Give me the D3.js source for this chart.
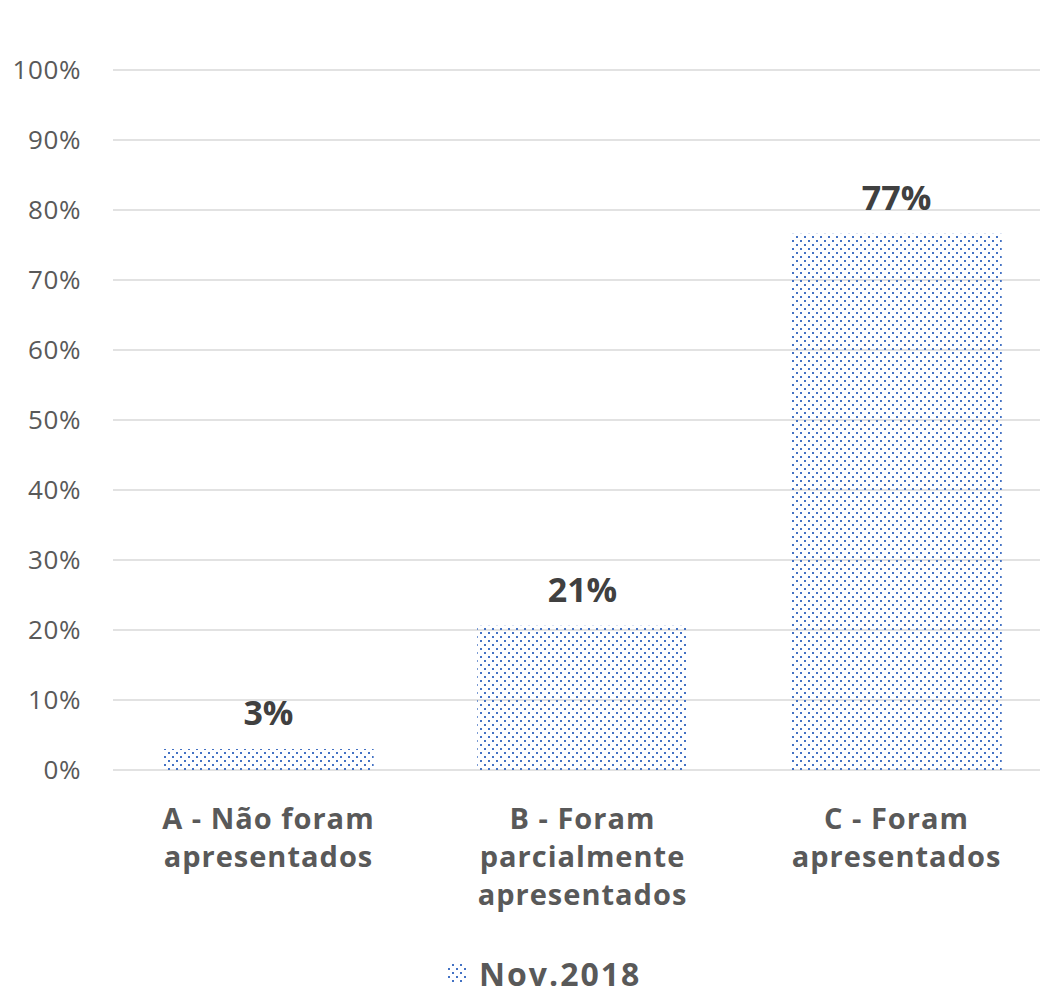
<!DOCTYPE html>
<html><head><meta charset="utf-8">
<script src="https://cdn.jsdelivr.net/npm/d3@7"></script>
<style>body{margin:0;background:#fff}svg{display:block}text{font-family:"Open Sans",Lato,sans-serif}</style>
</head><body>
<script>
const categories = [["A - Não foram","apresentados"],["B - Foram","parcialmente","apresentados"],["C - Foram","apresentados"]];
const values = [0.03, 0.206, 0.766];
const ticks = [0,0.1,0.2,0.3,0.4,0.5,0.6,0.7,0.8,0.9,1.0];
const seriesName = "Nov.2018";

const W=1045,H=997;
const svg=d3.select("body").append("svg").attr("width",W).attr("height",H);
const defs=svg.append("defs");
const pat=defs.append("pattern").attr("id","dots").attr("patternUnits","userSpaceOnUse").attr("width",8).attr("height",8);
pat.append("rect").attr("x",0).attr("y",0).attr("width",2).attr("height",2).attr("fill","#4472C4");
pat.append("rect").attr("x",4).attr("y",4).attr("width",2).attr("height",2).attr("fill","#4472C4");

const x=d3.scaleBand().domain(d3.range(categories.length)).range([113,1052]).paddingInner(0.33).paddingOuter(0.16);
const y=d3.scaleLinear().domain([0,1]).range([770,70]);

const g=svg.append("g");
g.selectAll("line.grid").data(ticks).join("line").attr("class","grid")
 .attr("x1",113).attr("x2",1040).attr("y1",d=>y(d)).attr("y2",d=>y(d))
 .attr("stroke","#d9d9d9").attr("stroke-width",1.5);
g.selectAll("text.tick").data(ticks).join("text").attr("class","tick")
 .attr("x",81).attr("y",d=>y(d)).attr("dy","0.36em").attr("text-anchor","end")
 .attr("font-size",26).attr("letter-spacing",0.6).attr("fill","#595959").text(d3.format(".0%"));

g.selectAll("rect.bar").data(values).join("rect").attr("class","bar")
 .attr("x",(d,i)=>x(i)).attr("width",x.bandwidth()).attr("y",d=>y(d)).attr("height",d=>y(0)-y(d))
 .attr("fill","url(#dots)");
g.selectAll("text.lbl").data(values).join("text").attr("class","lbl")
 .attr("x",(d,i)=>x(i)+x.bandwidth()/2).attr("y",d=>y(d)-24).attr("text-anchor","middle")
 .attr("font-size",34).attr("font-weight","bold").attr("fill","#404040").text(d3.format(".0%"));

const cat=g.selectAll("text.cat").data(categories).join("text").attr("class","cat")
 .attr("x",(d,i)=>x(i)+x.bandwidth()/2).attr("y",829).attr("text-anchor","middle")
 .attr("font-size",29).attr("letter-spacing",1).attr("font-weight","bold").attr("fill","#595959");
cat.selectAll("tspan").data(d=>d).join("tspan").attr("x",function(){return this.parentNode.getAttribute("x");})
 .attr("dy",(d,i)=>i?38:0).text(d=>d);

const lg=svg.append("g");
lg.append("rect").attr("x",446).attr("y",964).attr("width",20).attr("height",20).attr("fill","url(#dots)");
lg.append("text").attr("x",479).attr("y",986).attr("font-size",32).attr("letter-spacing",2).attr("font-weight","bold").attr("fill","#595959").text(seriesName);
</script>
</body></html>
